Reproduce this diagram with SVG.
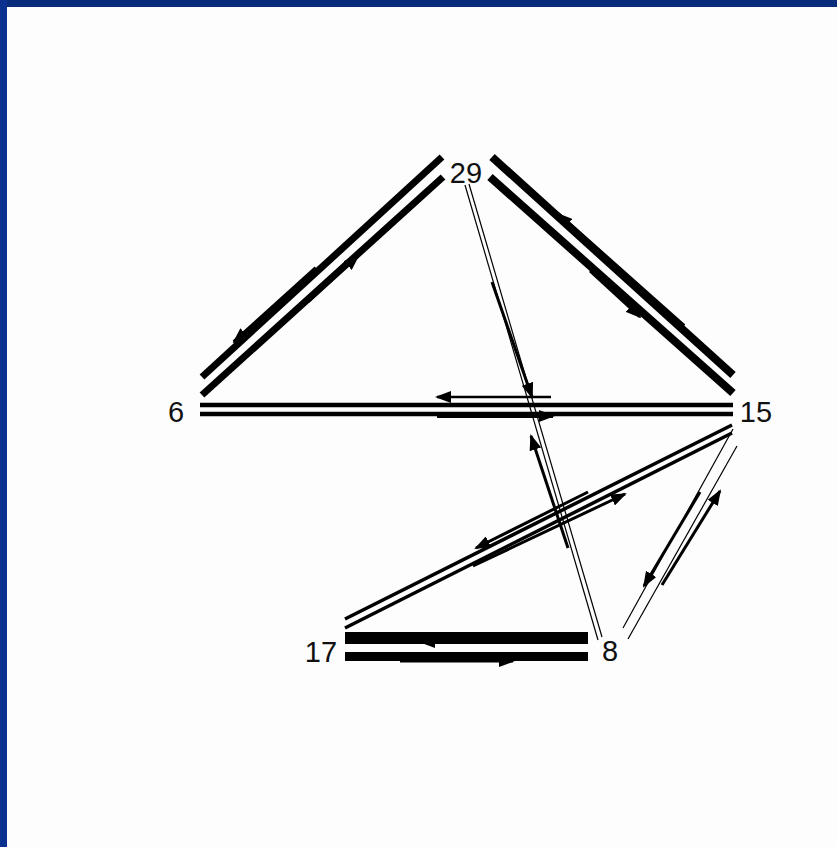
<svg xmlns="http://www.w3.org/2000/svg" width="837" height="847" viewBox="0 0 837 847">
<style>
.lbl{font-family:"Liberation Sans",Arial,sans-serif;font-size:29px;fill:#111;text-anchor:middle}
.ln{stroke:#000;fill:none;stroke-linecap:butt}
.ar{stroke:#000;fill:none;stroke-linecap:butt;marker-end:url(#ah)}
</style>
<defs>
<marker id="ah" markerUnits="userSpaceOnUse" markerWidth="16" markerHeight="12" refX="14" refY="6" orient="auto">
<path d="M0,0 L16,6 L0,12 z" fill="#000"/>
</marker>
</defs>
<rect x="0" y="0" width="837" height="847" fill="#fdfdfd"/>
<rect x="0" y="0" width="837" height="7" fill="#082b7c"/>
<rect x="0" y="0" width="7" height="847" fill="#0a3090"/>
<g id="connectors">
<!-- 29-6 -->
<line class="ln" x1="442" y1="157" x2="202" y2="377" stroke-width="7"/>
<line class="ln" x1="443" y1="177" x2="202" y2="395" stroke-width="7"/>
<line class="ar" x1="316" y1="268" x2="234" y2="342" stroke-width="4"/>
<line class="ar" x1="308" y1="302" x2="358" y2="256" stroke-width="3"/>
<!-- 29-15 -->
<line class="ln" x1="492" y1="157" x2="733" y2="375" stroke-width="8"/>
<line class="ln" x1="490" y1="177" x2="733" y2="393" stroke-width="8"/>
<line class="ar" x1="684" y1="326" x2="558" y2="214" stroke-width="4"/>
<line class="ar" x1="590" y1="271" x2="640" y2="317" stroke-width="3"/>
<!-- 6-15 -->
<line class="ln" x1="200" y1="405" x2="733" y2="405" stroke-width="4.5"/>
<line class="ln" x1="200" y1="414" x2="733" y2="414" stroke-width="4.5"/>
<line class="ar" x1="551" y1="397" x2="437" y2="397" stroke-width="2.5"/>
<line class="ar" x1="437" y1="416" x2="553" y2="416" stroke-width="4"/>
<!-- 29-8 -->
<line class="ln" x1="465" y1="185" x2="598" y2="640" stroke-width="1.2"/>
<line class="ln" x1="469" y1="184" x2="602" y2="637" stroke-width="1.2"/>
<line class="ar" x1="492" y1="282" x2="532" y2="397" stroke-width="3"/>
<line class="ar" x1="568" y1="548" x2="531" y2="436" stroke-width="3"/>
<!-- 15-17 -->
<line class="ln" x1="732" y1="425" x2="345" y2="619" stroke-width="3.5"/>
<line class="ln" x1="732" y1="433" x2="345" y2="628" stroke-width="3.5"/>
<line class="ar" x1="588" y1="492" x2="476" y2="548" stroke-width="3"/>
<line class="ar" x1="473" y1="566" x2="625" y2="494" stroke-width="3"/>
<!-- 15-8 -->
<line class="ln" x1="733" y1="429" x2="623" y2="628" stroke-width="1.2"/>
<line class="ln" x1="737" y1="446" x2="628" y2="639" stroke-width="1.2"/>
<line class="ar" x1="700" y1="492" x2="644" y2="586" stroke-width="3"/>
<line class="ar" x1="662" y1="585" x2="720" y2="491" stroke-width="3"/>
<!-- 17-8 -->
<rect x="345" y="632" width="243" height="12" fill="#000"/>
<rect x="345" y="652" width="243" height="9" fill="#000"/>
<line class="ar" x1="540" y1="642" x2="421" y2="642" stroke-width="3"/>
<line class="ar" x1="400" y1="661" x2="513" y2="661" stroke-width="3"/>
</g>
<g id="n29"><text class="lbl" x="466" y="183">29</text></g>
<g id="n6"><text class="lbl" x="176" y="422">6</text></g>
<g id="n15"><text class="lbl" x="756" y="422">15</text></g>
<g id="n17"><text class="lbl" x="321" y="662">17</text></g>
<g id="n8"><text class="lbl" x="610" y="661">8</text></g>
</svg>
